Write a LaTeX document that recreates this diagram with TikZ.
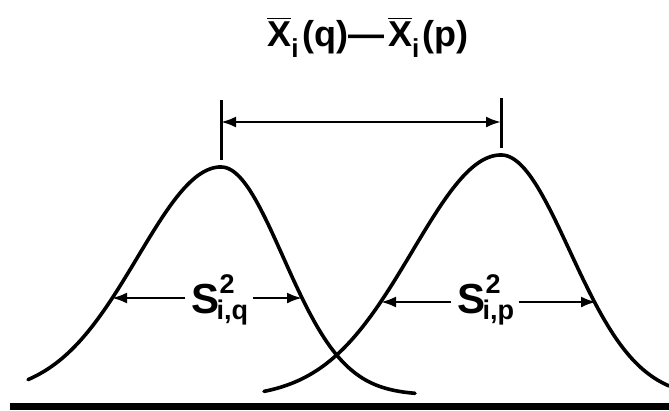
\documentclass[tikz,border=0pt]{standalone}
\usepackage{amsmath}
\usepackage{fontspec}
\setmainfont{Liberation Sans}
\usetikzlibrary{arrows.meta}
\tikzset{
  curve/.style={line width=3.6pt, line cap=round, line join=round},
  arr/.style={line width=2.4pt, -{Latex[length=15pt,width=11pt]}},
  dimarr/.style={line width=2.4pt, {Latex[length=15pt,width=11pt]}-{Latex[length=15pt,width=11pt]}},
  tick/.style={line width=3pt},
  lab/.style={inner sep=0pt, font=\fontsize{42}{46}\selectfont\bfseries},
  ttl/.style={inner sep=0pt, font=\fontsize{36}{40}\selectfont\bfseries}
}
\newcommand{\scr}[1]{\text{\fontsize{27}{28}\selectfont\bfseries #1}}
\newcommand{\tsub}[1]{\text{\fontsize{26}{28}\selectfont\bfseries #1}}
\begin{document}
\begin{tikzpicture}[x=1pt,y=-1pt]
\useasboundingbox (0,0) rectangle (669,410);
\fill[white] (0,0) rectangle (669,410);
% bottom bar
\fill[black] (10,403) rectangle (669,410);
% left curve (q)
\draw[curve] plot[domain=28:221, samples=80] (\x, {395-228*exp(-((\x-221)/100)^2/1.382)})
  -- plot[domain=221:415, samples=80] (\x, {395-228*exp(-((\x-221)/100)^2/0.7684)});
% right curve (p)
\draw[curve] plot[domain=264:501, samples=80] (\x, {398-243*exp(-((\x-501)/100)^2/1.5596)})
  -- plot[domain=501:669, samples=80] (\x, {398-243*exp(-((\x-501)/100)^2/0.941)});
% ticks
\coordinate (tq1) at (221,100);
\coordinate (tq2) at (221,160);
\coordinate (tp1) at (501,98);
\coordinate (tp2) at (501,148);
\draw[tick] (tq1) -- (tq2);
\draw[tick] (tp1) -- (tp2);
\coordinate (mq) at (221,122);
\coordinate (mp) at (501,122);
\draw[dimarr] (mq) -- (mp);
% title
\node[ttl] (title) at (368,37) {$\overline{\text{X}}_{\tsub{i}}$\kern3pt(q)\kern1pt---\kern3pt$\overline{\text{X}}_{\tsub{i}}$\kern3pt(p)};
% labels
\node[lab, anchor=base] (Sq) at (220,313) {$\text{S}^{\scr{2}}_{\kern-3pt\scr{i,q}}$};
\node[lab, anchor=base] (Sp) at (486,313) {$\text{S}^{\scr{2}}_{\kern-3pt\scr{i,p}}$};
\coordinate (aq1) at (112,298);
\coordinate (aq2) at (302,298);
\coordinate (ap1) at (381,302);
\coordinate (ap2) at (596,302);
\draw[arr] (Sq.west |- aq1) ++(-6,0) -- (aq1);
\draw[arr] (Sq.east |- aq2) ++(4,0) -- (aq2);
\draw[arr] (Sp.west |- ap1) ++(-6,0) -- (ap1);
\draw[arr] (Sp.east |- ap2) ++(4,0) -- (ap2);
\end{tikzpicture}
\end{document}
